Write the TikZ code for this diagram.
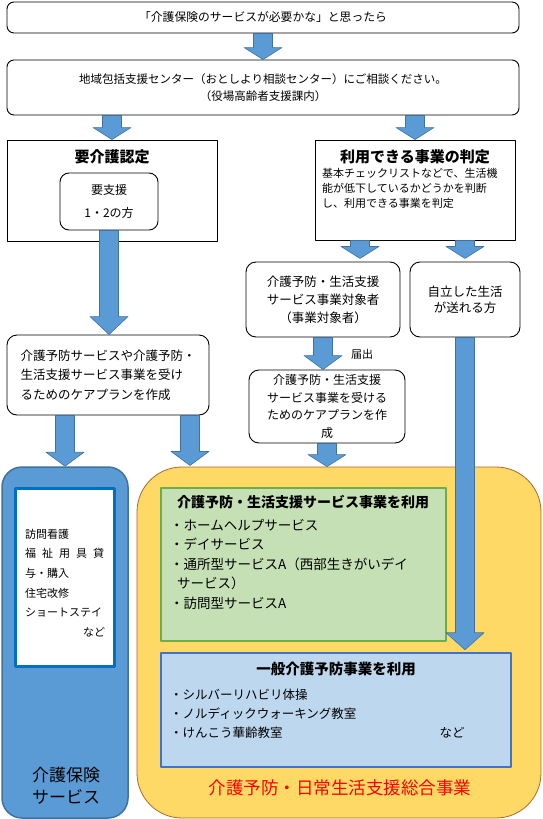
\documentclass[tikz,border=0pt]{standalone}
\usepackage{fontspec}
\setmainfont{Noto Sans CJK JP}
\usetikzlibrary{positioning,calc}
\definecolor{arrowblue}{HTML}{5B9BD5}
\definecolor{arrowedge}{HTML}{41719C}
\definecolor{listblue}{HTML}{0070C0}
\definecolor{yellowfill}{HTML}{FFD966}
\definecolor{yellowedge}{HTML}{B0672C}
\definecolor{greenfill}{HTML}{C5E0B4}
\definecolor{greenedge}{HTML}{70AD47}
\definecolor{generalfill}{HTML}{BDD7EE}
\definecolor{generaledge}{HTML}{4472C4}
\newcommand{\barrow}[3][13]{%
  \filldraw[blockarrow] let \p1=#2, \p2=#3 in
    (\x1-9.5pt,\y1) -- (\x1+9.5pt,\y1) -- (\x1+9.5pt,\y2+#1pt) -- (\x1+19pt,\y2+#1pt)
    -- (\x1,\y2) -- (\x1-19pt,\y2+#1pt) -- (\x1-9.5pt,\y2+#1pt) -- cycle;}
\newcommand{\fs}[2]{\fontsize{#1}{#2}\selectfont}

\begin{document}
\begin{tikzpicture}[x=1pt, y=-1pt, line join=round,
  box/.style={draw=black, line width=0.9pt, rounded corners=7pt, fill=white, inner sep=0pt, align=center},
  sqbox/.style={draw=black, line width=0.9pt, fill=white, inner sep=0pt},
  txt/.style={inner sep=0pt, align=center},
  blockarrow/.style={fill=arrowblue, draw=arrowedge, line width=0.6pt}]
\useasboundingbox (0,0) rectangle (543,819);

\node[box, minimum width=512pt, minimum height=31pt, font=\fs{11.8}{15}] (ask) at (263,17.5) {「介護保険のサービスが必要かな」と思ったら};
\node[box, minimum width=512pt, minimum height=55pt, font=\fs{11.5}{17}] (centre) at (263,87.5)
  {地域包括支援センター（おとしより相談センター）にご相談ください。\\（役場高齢者支援課内）};

\node[sqbox, minimum width=210pt, minimum height=101pt] (care) at (112,190.5) {};
\node[txt, font=\bfseries\fs{15}{18}] (caretitle) at (112,157) {要介護認定};
\node[box, rounded corners=9pt, minimum width=98pt, minimum height=57pt, font=\fs{12}{23}] (support) at (109,201.5) {要支援\\1・2の方};

\node[sqbox, minimum width=200pt, minimum height=100pt] (judge) at (415,190) {};
\node[txt, font=\bfseries\fs{15}{18}] (judgetitle) at (415,157) {利用できる事業の判定};
\node[txt, anchor=west, align=left, font=\fs{11}{15}] (judgebody) at (322,188)
  {基本チェックリストなどで、生活機\\能が低下しているかどうかを判断\\し、利用できる事業を判定};

\node[box, rounded corners=10pt, minimum width=154pt, minimum height=75pt, font=\fs{12.5}{18}] (target) at (323,299.5)
  {介護予防・生活支援\\サービス事業対象者\\（事業対象者）};
\node[box, rounded corners=10pt, minimum width=110pt, minimum height=75pt, font=\fs{12.5}{16}] (self) at (465,299.5)
  {自立した生活\\が送れる方};

\node[box, rounded corners=10pt, minimum width=202pt, minimum height=80pt, align=left, font=\fs{12.5}{19.5}] (plan) at (108,375)
  {介護予防サービスや介護予防・\\生活支援サービス事業を受け\\るためのケアプランを作成};
\node[box, rounded corners=10pt, minimum width=156pt, minimum height=73pt, font=\fs{12}{17.7}] (plan2) at (327,406.5)
  {介護予防・生活支援\\サービス事業を受ける\\ためのケアプランを作\\成};
\node[txt, font=\fs{11}{14}] (notice) at (362,354) {届出};

\node[draw=arrowedge, fill=arrowblue, line width=1.5pt, rounded corners=20pt, minimum width=126pt, minimum height=351pt] (hoken) at (65,642.5) {};
\node[draw=listblue, fill=white, line width=3pt, minimum width=99pt, minimum height=178pt] (hokenlist) at (64.5,577) {};
\node[txt, anchor=west, align=left, text width=80pt, font=\fs{11}{19.6}] (hokenitems) at (25,583)
  {訪問看護\\\makebox[79pt]{福\hfill 祉\hfill 用\hfill 具\hfill 貸}\\与・購入\\住宅改修\\ショートステイ\\\hspace*{\fill}など};
\node[txt, font=\fs{17}{22}] (hokentitle) at (66,786) {介護保険\\サービス};

\node[draw=yellowedge, fill=yellowfill, line width=0.8pt, rounded corners=45pt, minimum width=404pt, minimum height=351pt] (sougou) at (339,642.5) {};
\node[txt, text=red, font=\fs{17.5}{20}] (sougoutitle) at (340,788) {介護予防・日常生活支援総合事業};

\node[draw=greenedge, fill=greenfill, line width=2.5pt, minimum width=285pt, minimum height=153pt] (green) at (303.5,564.5) {};
\node[txt, font=\bfseries\fs{14}{17}] (greentitle) at (303,502) {介護予防・生活支援サービス事業を利用};
\node[txt, anchor=west, align=left, font=\fs{13.5}{19.5}] (greenitems) at (170,564)
  {・ホームヘルプサービス\\・デイサービス\\・通所型サービスA（西部生きがいデイ\\\hspace*{7pt}サービス）\\・訪問型サービスA};

\node[draw=generaledge, fill=generalfill, line width=2.5pt, minimum width=350pt, minimum height=114pt] (general) at (336,710) {};
\node[txt, font=\bfseries\fs{14.5}{17}] (generaltitle) at (336,669) {一般介護予防事業を利用};
\node[txt, anchor=west, align=left, font=\fs{12.5}{19}] (generalitems) at (170,714)
  {・シルバーリハビリ体操\\・ノルディックウォーキング教室\\・けんこう華齢教室};
\node[txt, font=\fs{12.5}{15}] (generalnado) at (452,733) {など};

\barrow[12]{(ask.south)}{(centre.north)}
\barrow[12]{(centre.south -| care.north)}{(care.north)}
\barrow[12]{(centre.south -| judge.north)}{(judge.north)}
\barrow[18]{(support.south)}{(plan.north)}
\barrow[12]{($(judge.south)+(-55,0)$)}{($(judge.south)+(-55,18)$)}
\barrow[12]{(judge.south -| self.north)}{($(judge.south -| self.north)+(0,18)$)}
\barrow[14]{(target.south)}{(target.south |- plan2.north)}
\barrow[14]{(plan.south -| hoken.north)}{(hoken.north)}
\barrow[14]{($(plan.south)+(82,0)$)}{($(plan.south)+(82,50)$)}
\barrow[12]{(plan2.south)}{(plan2.south |- sougou.north)}
\barrow[17]{(self.south)}{($(self.south |- general.north)+(0,-2)$)}
\end{tikzpicture}
\end{document}
